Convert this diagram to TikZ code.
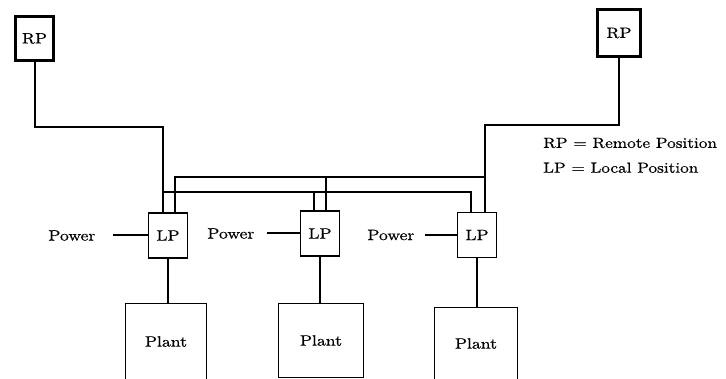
\documentclass[tikz,border=0pt]{standalone}
\usepackage{fontspec}
\setmainfont{lmroman10-regular.otf}[FakeStretch=1.18,FakeBold=0.6]
\usepackage{tikz}
\usetikzlibrary{positioning}

\begin{document}
\begin{tikzpicture}[x=1pt,y=-1pt,
    rpbox/.style={rectangle,draw,line width=3pt,minimum width=38pt,minimum height=44pt,
                  inner sep=0pt,font=\fontsize{15}{18}\selectfont},
    lpbox/.style={rectangle,draw,line width=1.8pt,minimum width=39pt,minimum height=45pt,
                  inner sep=0pt,font=\fontsize{15}{18}\selectfont},
    plantbox/.style={rectangle,draw,line width=1.8pt,inner sep=0pt,font=\fontsize{15}{18}\selectfont},
    lbl/.style={inner sep=0pt,font=\fontsize{15}{18}\selectfont},
    lgd/.style={inner sep=0pt,anchor=west,font=\fontsize{14.6}{17}\selectfont},
    wire/.style={line width=2pt},
  ]
    \useasboundingbox (0,0) rectangle (726,379);
    \clip (0,0) rectangle (726,379);
    \node[rpbox] (rp1) at (34.5,38.5) {RP};
    \node[rpbox,minimum width=43pt,minimum height=47pt] (rp2) at (619,33) {RP};
    \node[lpbox] (lp1) at (168,235.5) {LP};
    \node[lpbox] (lp2) at (320,233.5) {LP};
    \node[lpbox] (lp3) at (477,235) {LP};
    \node[plantbox,minimum width=81pt,minimum height=76pt] (pl1) at (166,341.5) {Plant};
    \node[plantbox,minimum width=85pt,minimum height=74pt] (pl2) at (321,340.5) {Plant};
    \node[plantbox,minimum width=83pt,minimum height=72pt] (pl3) at (476,343.5) {Plant};
    % power feeds
    \coordinate[left=35pt of lp1] (pe1);
    \coordinate[left=33pt of lp2] (pe2);
    \coordinate[left=32pt of lp3] (pe3);
    \node[lbl,left=17pt of pe1] (pw1) {Power};
    \node[lbl,left=12pt of pe2] (pw2) {Power};
    \node[lbl,left=10pt of pe3] (pw3) {Power};
    \draw[wire] (pe1) -- (lp1);
    \draw[wire] (pe2) -- (lp2);
    \draw[wire] (pe3) -- (lp3);
    % remote lines and buses
    \coordinate (rpleft) at (163,127);
    \coordinate (rpright) at (485,125);
    \coordinate (lowbus) at (163,192);
    \coordinate (highbus) at (485,177);
    \draw[wire] (rp1.south) |- (rpleft) -- (rpleft |- lp1.north);
    \draw[wire] (rp2.south) |- (rpright) -- (rpright |- lp3.north);
    \draw[wire] (lowbus) -| ([xshift=-6pt]lp3.north);
    \draw[wire] ([xshift=-6pt]lp2.north) -- ([xshift=-6pt]lp2.north |- lowbus);
    \draw[wire] (highbus) -| ([xshift=7pt]lp1.north);
    \draw[wire] ([xshift=6pt]lp2.north) -- ([xshift=6pt]lp2.north |- highbus);
    % local to plant
    \draw[wire] (lp1.south) -- (lp1.south |- pl1.north);
    \draw[wire] (lp2.south) -- (lp2.south |- pl2.north);
    \draw[wire] (lp3.south) -- (lp3.south |- pl3.north);
    % legend
    \node[lgd] (leg1) at (543,143) {RP = Remote Position};
    \node[lgd,below=14pt of leg1.south west,anchor=north west] (leg2) {LP = Local Position};
  \end{tikzpicture}
\end{document}
